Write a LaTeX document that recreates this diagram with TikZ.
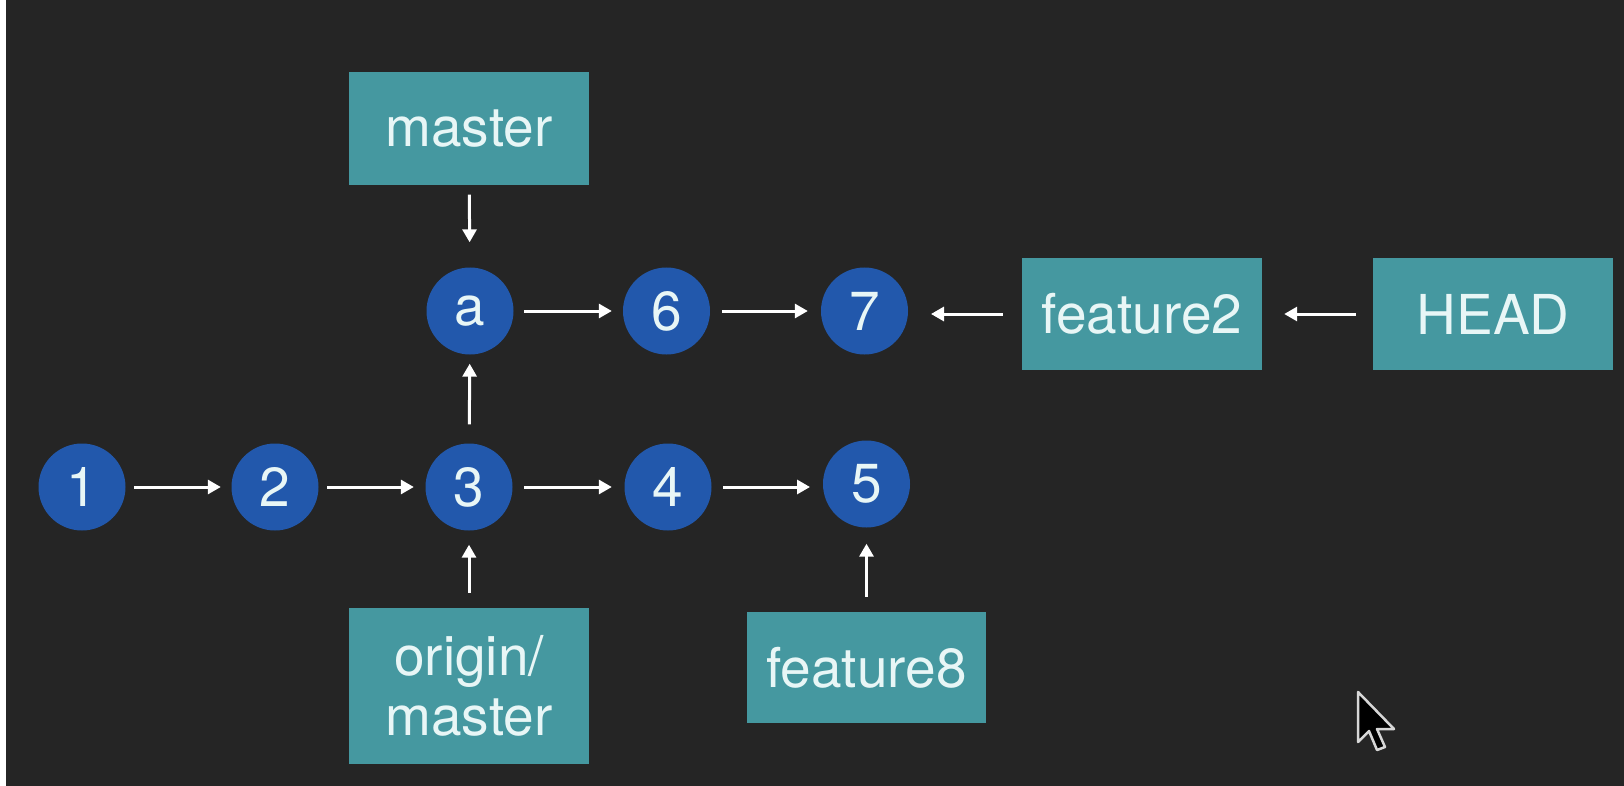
\documentclass[tikz,border=0pt]{standalone}
\usepackage{fontspec}
\setmainfont{TeX Gyre Heros}
\usetikzlibrary{arrows.meta}
\definecolor{bg}{RGB}{37,37,37}
\definecolor{boxc}{RGB}{69,152,160}
\definecolor{nodec}{RGB}{34,88,172}
\definecolor{txt}{RGB}{232,246,246}
\tikzset{
  commit/.style={circle, fill=nodec, minimum size=87pt, inner sep=0pt, text=txt, font=\fontsize{55}{60}\selectfont},
  refbox/.style={rectangle, fill=boxc, inner sep=0pt, text=txt, align=center, font=\fontsize{55}{60}\selectfont},
  arr/.style={draw=white, line width=3pt, -{Triangle[length=13pt,width=14pt]}},
}
\begin{document}
\begin{tikzpicture}[x=1pt,y=-1pt]
\fill[bg] (0,0) rectangle (1624,786);
\fill[white] (0,0) rectangle (6,786);
\useasboundingbox (0,0) rectangle (1624,786);

% commits
\node[commit] (c1) at (82,487) {1};
\node[commit] (c2) at (275,487) {2};
\node[commit] (c3) at (469,487) {3};
\node[commit] (c4) at (668,487) {4};
\node[commit] (c5) at (866.5,484) {5};
\node[commit] (ca) at (470,311) {a};
\node[commit] (c6) at (666.5,311) {6};
\node[commit] (c7) at (864.5,311) {7};

% refs
\node[refbox, minimum width=240pt, minimum height=113pt] (master) at (469,129) {master};
\node[refbox, minimum width=240pt, minimum height=112pt] (feat2) at (1142,314) {feature2};
\node[refbox, minimum width=240pt, minimum height=112pt] (head) at (1493,314) {HEAD};
\node[refbox, minimum width=240pt, minimum height=156pt] (origin) at (469,686) {origin/\\master};
\node[refbox, minimum width=239pt, minimum height=111pt] (feat8) at (866.5,667.5) {feature8};

% connectors
\draw[arr, shorten <=8.5pt, shorten >=10.5pt] (c1) -- (c2);
\draw[arr, shorten <=8.5pt, shorten >=11.5pt] (c2) -- (c3);
\draw[arr, shorten <=11.5pt, shorten >=12.5pt] (c3) -- (c4);
\draw[arr, shorten <=11.5pt, shorten >=56.5pt] (c4) -- (c4 -| c5);
\draw[arr, shorten <=10.5pt, shorten >=11pt] (ca) -- (c6);
\draw[arr, shorten <=12pt, shorten >=13pt] (c6) -- (c7);
\draw[arr, shorten <=19pt, shorten >=66.5pt] (feat2) -- (feat2 -| c7);
\draw[arr, shorten <=17pt, shorten >=22pt] (head) -- (feat2);
\draw[arr, shorten <=9pt, shorten >=25pt] (master) -- (ca);
\draw[arr, shorten <=19pt, shorten >=9pt] (c3) -- (ca);
\draw[arr, shorten <=15pt, shorten >=14pt] (origin) -- (c3);
\draw[arr, shorten <=15pt, shorten >=16pt] (feat8) -- (c5);

% mouse cursor
\draw[fill=black, draw={rgb,255:red,215;green,215;blue,215}, line width=2.5pt, line join=round]
  (1358,692) -- (1358,742) -- (1369,731) -- (1377,750) -- (1385,747) -- (1377,729) -- (1394,729) -- cycle;
\end{tikzpicture}
\end{document}
